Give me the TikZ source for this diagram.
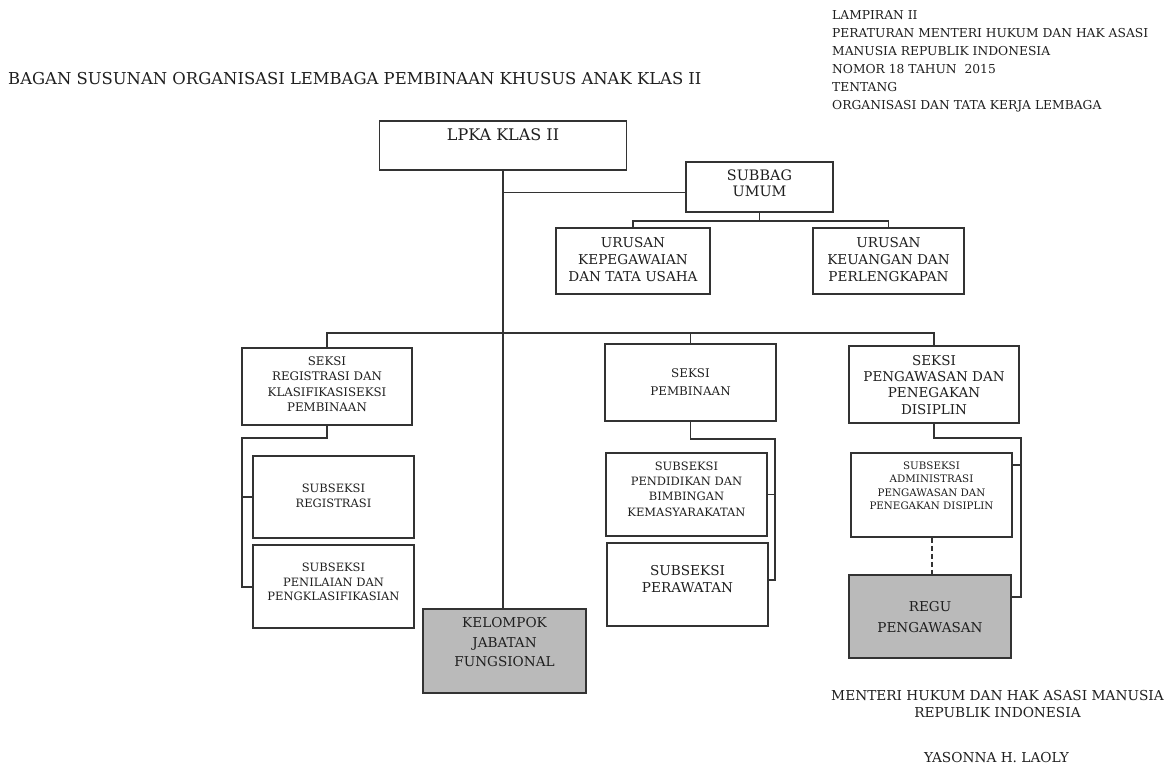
\documentclass[tikz,border=0pt]{standalone}
\usepackage{fontspec}
\setmainfont{DejaVu Serif}
\newcommand\fs[2]{\fontsize{#1}{#2}\selectfont}
\newcommand\rb[2]{\raisebox{#1}[\height][\depth]{\begin{tabular}{@{}c@{}}#2\end{tabular}}}
\begin{document}
\begin{tikzpicture}[x=1pt,y=-1pt,
  box/.style={draw=black!80, line width=1.6pt, fill=white, inner sep=0pt, align=center, text=black!88},
  shade/.style={box, fill=black!27},
  conn/.style={draw=black!80, line width=1.5pt},
  txt/.style={inner sep=0pt, text=black!88}]
\useasboundingbox (0,0) rectangle (1173,773);
\fill[white] (0,0) rectangle (1173,773);

% headings
\node[txt, anchor=west, font=\fs{16.4}{19}] (title) at (8,79) {BAGAN SUSUNAN ORGANISASI LEMBAGA PEMBINAAN KHUSUS ANAK KLAS II};
\node[txt, anchor=north west, align=left, font=\fs{12.3}{18}] (lamp) at (832,10.5) {LAMPIRAN II\\PERATURAN MENTERI HUKUM DAN HAK ASASI\\MANUSIA REPUBLIK INDONESIA\\NOMOR 18 TAHUN\ \ 2015\\TENTANG\\ORGANISASI DAN TATA KERJA LEMBAGA};
\node[txt, align=center, font=\fs{13.7}{17}] (menteri) at (997.5,704.5) {MENTERI HUKUM DAN HAK ASASI MANUSIA\\REPUBLIK INDONESIA};
\node[txt, font=\fs{13.7}{17}] (nama) at (996.5,758) {YASONNA H. LAOLY};

% boxes
\node[box, minimum width=247pt, minimum height=49pt, font=\fs{16}{19}] (lpka) at (503,145.5) {\rb{8.5pt}{LPKA KLAS II}};
\node[box, minimum width=147pt, minimum height=50pt, font=\fs{14.4}{16}] (subbag) at (759.5,187) {\rb{1.5pt}{SUBBAG\\UMUM}};
\node[box, minimum width=154pt, minimum height=66pt, font=\fs{13.6}{17}] (urkep) at (633,261) {\rb{0pt}{URUSAN\\KEPEGAWAIAN\\DAN TATA USAHA}};
\node[box, minimum width=151pt, minimum height=66pt, font=\fs{13.6}{17}] (urkeu) at (888.5,261) {\rb{0pt}{URUSAN\\KEUANGAN DAN\\PERLENGKAPAN}};

\node[box, minimum width=170pt, minimum height=77pt, font=\fs{11.8}{15.3}] (sreg) at (327,386.5) {\rb{1pt}{SEKSI\\REGISTRASI DAN\\KLASIFIKASISEKSI\\PEMBINAAN}};
\node[box, minimum width=161pt, minimum height=82pt, font=\fs{11.5}{14.5}] (subreg) at (333.5,497) {\rb{0pt}{SUBSEKSI\\REGISTRASI}};
\node[box, minimum width=161pt, minimum height=83pt, font=\fs{11.5}{14.5}] (subpen) at (333.5,586.5) {\rb{3pt}{SUBSEKSI\\PENILAIAN DAN\\PENGKLASIFIKASIAN}};
\node[shade, minimum width=163pt, minimum height=84pt, font=\fs{13.6}{19.5}] (kel) at (504.5,651) {\rb{7.5pt}{KELOMPOK\\JABATAN\\FUNGSIONAL}};

\node[box, minimum width=171pt, minimum height=77pt, font=\fs{11.9}{18}] (spemb) at (690.5,382.5) {\rb{0pt}{SEKSI\\PEMBINAAN}};
\node[box, minimum width=161pt, minimum height=83pt, font=\fs{11.5}{15.3}] (subpend) at (686.5,494.5) {\rb{4.5pt}{SUBSEKSI\\PENDIDIKAN DAN\\BIMBINGAN\\KEMASYARAKATAN}};
\node[box, minimum width=161pt, minimum height=83pt, font=\fs{13.6}{17}] (subper) at (687.5,584.5) {\rb{4pt}{SUBSEKSI\\PERAWATAN}};

\node[box, minimum width=170pt, minimum height=77pt, font=\fs{13.5}{16.4}] (speng) at (934,384.5) {\rb{-2pt}{SEKSI\\PENGAWASAN DAN\\PENEGAKAN\\DISIPLIN}};
\node[box, minimum width=161pt, minimum height=84pt, font=\fs{10.3}{13.5}] (sadm) at (931.5,495) {\rb{8pt}{SUBSEKSI\\ADMINISTRASI\\PENGAWASAN DAN\\PENEGAKAN DISIPLIN}};
\node[shade, minimum width=162pt, minimum height=83pt, font=\fs{13.6}{21}] (regu) at (930,616.5) {\rb{-1pt}{REGU\\PENGAWASAN}};

% connectors
\draw[conn] (lpka.south) -- (lpka.south |- kel.north);
\path (lpka.south) ++(0,21.5) coordinate (js);
\draw[conn] (js) -- (js -| subbag.west);
\coordinate (ub) at (761,221);
\draw[conn] (subbag.south) -- (subbag.south |- ub);
\draw[conn] (urkep.north) |- (ub) -| (urkeu.north);

\coordinate (mb) at (503,333);
\draw[conn] (sreg.north) |- (mb) -| (speng.north);
\draw[conn] (spemb.north) -- (spemb.north |- mb);

\coordinate (lb) at (242,587);
\draw[conn] (sreg.south) -- ++(0,12) -| (lb) -- (lb -| subpen.west);
\draw[conn] (subreg.west) -- (subreg.west -| lb);

\coordinate (mk) at (775,580);
\draw[conn] (spemb.south) -- ++(0,17) -| (mk) -- (mk -| subper.east);
\draw[conn] (subpend.east) -- (subpend.east -| mk);

\coordinate (rk) at (1021,597);
\draw[conn] (speng.south) -- ++(0,14) -| (rk) -- (rk -| regu.east);
\path ([yshift=30pt]sadm.east) coordinate (sa);
\draw[conn] (sa) -- (sa -| rk);

\draw[conn, line width=2pt, dash pattern=on 5pt off 3pt] (sadm.south) -- (sadm.south |- regu.north);
\end{tikzpicture}
\end{document}
